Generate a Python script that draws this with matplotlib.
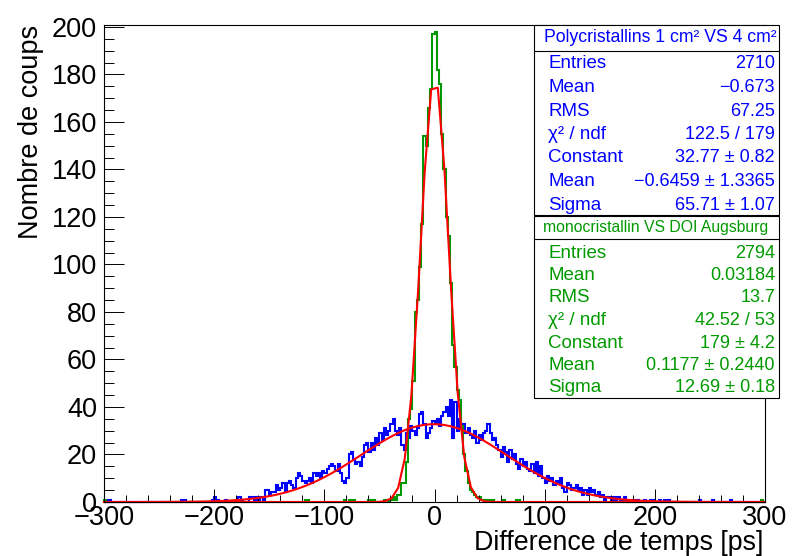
import numpy as np
import matplotlib
matplotlib.use("Agg")
import matplotlib.pyplot as plt
from matplotlib.patches import Rectangle
from matplotlib.lines import Line2D
from matplotlib.ticker import MultipleLocator
from matplotlib.transforms import Affine2D

plt.rcParams['font.family'] = ['Liberation Sans', 'DejaVu Sans']

BLUE = '#0000ff'
GREEN = '#009900'
RED = '#ff0000'

# 300 bins of 2 ps between -300 and 300
x_min, x_max, bin_w = -300, 300, 2

# blue histogram (polycristallins), counts per bin starting at blue_core_start
blue_core_start = -156
blue_core = [
    1, 5, 5, 3, 4, 4, 7, 5, 6, 8,
    4, 8, 9, 7, 6, 10, 12, 11, 9, 8,
    9, 10, 8, 12, 11, 12, 10, 13, 12, 14,
    15, 16, 15, 13, 16, 12, 9, 8, 10, 20,
    21, 18, 16, 17, 15, 19, 24, 25, 21, 25,
    22, 27, 24, 29, 26, 31, 28, 30, 33, 35,
    30, 28, 31, 24, 22, 29, 27, 32, 30, 28,
    31, 37, 38, 33, 27, 29, 31, 34, 33, 35,
    32, 36, 38, 40, 36, 43, 27, 42, 30, 35,
    31, 33, 29, 31, 28, 27, 30, 25, 28, 26,
    29, 30, 33, 29, 26, 27, 24, 22, 19, 23,
    21, 17, 22, 18, 20, 16, 14, 18, 15, 17,
    14, 13, 16, 12, 17, 11, 15, 10, 8, 11,
    9, 10, 7, 9, 8, 10, 6, 4, 8, 7,
    5, 6, 7, 5, 6, 3, 5, 3, 6, 4,
    5, 3, 4, 2, 3, 1, 2, 2, 1, 2,
    1, 2, 1, 1, 2, 1,
]
blue_tail_x = [-296, -230, -228, -202, -200, -198, -190, -180, -178, -176,
               -168, -166, -164, -162, -160, -158, 178, 182, 184, 190,
               196, 198, 204, 208, 212, 240, 252, 268]
blue_tail_n = [1, 1, 1, 1, 2, 1, 1, 1, 2, 1,
               2, 2, 1, 2, 1, 2, 1, 1, 1, 1,
               1, 1, 1, 1, 1, 1, 1, 1]

# green histogram (monocristallin)
green_core_start = -46
green_core = [
    1, 1, 0, 1, 2, 1, 3, 3, 8, 8,
    17, 35, 39, 51, 80, 85, 99, 117, 154, 150,
    166, 174, 197, 198, 182, 176, 155, 140, 120, 112,
    92, 66, 57, 47, 43, 32, 20, 13, 8, 5,
    4, 3, 2, 2, 1, 1, 0, 1, 1,
]
green_tail_x = [-300, -118, -116, -82, -78, -74, -60, -56, 50, 52, 62, 74, 76, 296]
green_tail_n = [1, 1, 1, 1, 1, 1, 1, 1, 1, 1, 1, 1, 1, 1]

# gaussian fit parameters (constant, mean, sigma)
blue_fit = (32.77, -0.6459, 65.71)
green_fit = (179.0, 0.1177, 12.69)

stat_labels = ['Entries', 'Mean', 'RMS', 'χ² / ndf', 'Constant', 'Mean', 'Sigma']
blue_title = 'Polycristallins 1 cm² VS 4 cm²'
blue_values = ['2710', '−0.673', '67.25', '122.5 / 179', '32.77 ± 0.82',
               '−0.6459 ± 1.3365', '65.71 ± 1.07']
green_title = 'monocristallin VS DOI Augsburg'
green_values = ['2794', '0.03184', '13.7', '42.52 / 53', '179 ± 4.2',
                '0.1177 ± 0.2440', '12.69 ± 0.18']

edges = np.arange(x_min, x_max + bin_w, bin_w)


def fill(core_start, core, tail_x, tail_n):
    n = np.zeros(len(edges) - 1)
    i0 = (core_start - x_min) // bin_w
    n[i0:i0 + len(core)] = core
    for x, c in zip(tail_x, tail_n):
        n[(x - x_min) // bin_w] = c
    return n


blue_counts = fill(blue_core_start, blue_core, blue_tail_x, blue_tail_n)
green_counts = fill(green_core_start, green_core, green_tail_x, green_tail_n)

W, H = 800, 556
fig = plt.figure(figsize=(W / 100, H / 100), dpi=100)
pix = Affine2D().scale(1 / W, -1 / H).translate(0, 1) + fig.transFigure

ax = fig.add_axes([104 / W, 1 - 502 / H, 661 / W, 477 / H])

ax.stairs(blue_counts, edges, color=BLUE, lw=1.5, clip_on=False)
ax.stairs(green_counts, edges, color=GREEN, lw=1.5, clip_on=False)

# fitted functions, sampled like ROOT (100 points)
xs = np.concatenate(([x_min], np.arange(-297, 298, 6), [x_max]))
for c, m, s in (blue_fit, green_fit):
    ax.plot(xs, c * np.exp(-0.5 * ((xs - m) / s) ** 2), color=RED, lw=1.5, clip_on=False)

ax.set_xlim(x_min, x_max)
ax.set_ylim(0, 200.8)
ax.xaxis.set_major_locator(MultipleLocator(100))
ax.xaxis.set_minor_locator(MultipleLocator(20))
ax.yaxis.set_major_locator(MultipleLocator(20))
ax.yaxis.set_minor_locator(MultipleLocator(5))
ax.tick_params(axis='x', which='major', direction='in', length=9.5, width=0.7, labelsize=19.5, pad=2)
ax.tick_params(axis='x', which='minor', direction='in', length=5, width=0.7)
ax.tick_params(axis='y', which='major', direction='in', length=14.5, width=0.7, labelsize=19.5, pad=5)
ax.tick_params(axis='y', which='minor', direction='in', length=7.2, width=0.7)
ax.xaxis.set_major_formatter(plt.FuncFormatter(lambda v, p: f'{v:.0f}'.replace('-', '−')))
for sp in ax.spines.values():
    sp.set_linewidth(0.8)

fig.text(31, 25, 'Nombre de coups', rotation=90, ha='center', va='top', fontsize=19.5, transform=pix)
fig.text(763, 543, 'Difference de temps [ps]', ha='right', va='center', fontsize=19.3, transform=pix)


def stats_box(top, bottom, sep, title, title_size, title_x, values, color, row0, step):
    fig.add_artist(Rectangle((534, top), 245, bottom - top, transform=pix,
                             facecolor='white', edgecolor='black', lw=0.8))
    fig.add_artist(Line2D([534, 779], [sep, sep], transform=pix, color='black', lw=0.8))
    fig.text(title_x, (top + sep) / 2, title, ha='center', va='center', fontsize=title_size,
             color=color, transform=pix)
    for i, (lab, val) in enumerate(zip(stat_labels, values)):
        y = row0 + i * step
        fig.text(548, y, lab, ha='left', va='center', fontsize=13.5, color=color, transform=pix)
        fig.text(775, y, val, ha='right', va='center', fontsize=13, color=color, transform=pix)


stats_box(25, 215, 51, blue_title, 12.7, 660, blue_values, BLUE, 64, 23.5)
stats_box(216, 398, 239, green_title, 11.3, 656, green_values, GREEN, 253, 22.5)

fig.savefig('out.png', dpi=100)
